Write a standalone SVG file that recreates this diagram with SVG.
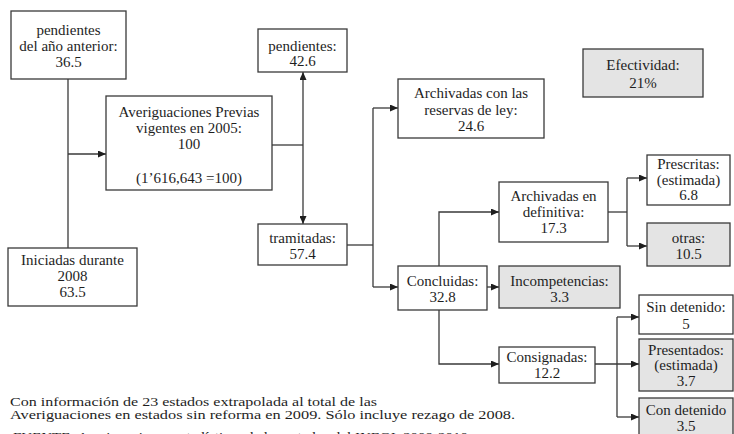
<svg xmlns="http://www.w3.org/2000/svg" width="734" height="434" viewBox="0 0 734 434">
<style>
.box{fill:#fff;stroke:#3a3a3a;stroke-width:1.3}
.gray{fill:#e4e4e4}
text{font-family:"Liberation Serif","DejaVu Serif","Times New Roman",serif;fill:#1e1e1e}
.t{font-size:15px;text-anchor:middle}
.n{font-size:13px}
.c{fill:none;stroke:#3a3a3a;stroke-width:1.3}
.a{marker-end:url(#ah)}
</style>
<defs>
<marker id="ah" markerUnits="userSpaceOnUse" markerWidth="8" markerHeight="7" refX="8" refY="3.5" orient="auto">
<path d="M0,0 L8,3.5 L0,7 z" fill="#1e1e1e"/>
</marker>
</defs>
<g id="connectors">
<path class="c" d="M68,79 V248"/>
<path class="c a" d="M68,154 H106"/>
<path class="c" d="M272,145 H303"/>
<path class="c a" d="M303,145 V72"/>
<path class="c a" d="M303,145 V224"/>
<path class="c" d="M347,245 H373"/>
<path class="c" d="M373,108 V287"/>
<path class="c a" d="M373,108 H398"/>
<path class="c a" d="M373,287 H398"/>
<path class="c a" d="M487,287 H499"/>
<path class="c a" d="M439,266 V212 H499"/>
<path class="c a" d="M439,310 V364 H499"/>
<path class="c" d="M608,212 H627"/>
<path class="c" d="M627,178 V246"/>
<path class="c a" d="M627,178 H647"/>
<path class="c a" d="M627,246 H647"/>
<path class="c a" d="M595,364 H639"/>
<path class="c" d="M617,317 V417"/>
<path class="c a" d="M617,317 H639"/>
<path class="c a" d="M617,417 H639"/>
</g>
<g id="n-anterior">
<rect class="box" x="11" y="11" width="115" height="68"/>
<text class="t" x="68.5" y="35">pendientes</text>
<text class="t" x="68.5" y="51">del año anterior:</text>
<text class="t" x="68.5" y="67">36.5</text>
</g>
<g id="n-iniciadas">
<rect class="box" x="8" y="248" width="129" height="58"/>
<text class="t" x="72.5" y="265">Iniciadas durante</text>
<text class="t" x="72.5" y="281">2008</text>
<text class="t" x="72.5" y="297">63.5</text>
</g>
<g id="n-averiguaciones">
<rect class="box" x="106" y="96" width="166" height="94"/>
<text class="t" x="189" y="117">Averiguaciones Previas</text>
<text class="t" x="189" y="133">vigentes en 2005:</text>
<text class="t" x="189" y="149">100</text>
<text class="t" x="189" y="183">(1’616,643 =100)</text>
</g>
<g id="n-pendientes">
<rect class="box" x="258" y="29" width="89" height="43"/>
<text class="t" x="302.5" y="51">pendientes:</text>
<text class="t" x="302.5" y="66">42.6</text>
</g>
<g id="n-tramitadas">
<rect class="box" x="258" y="224" width="89" height="41"/>
<text class="t" x="302.5" y="243">tramitadas:</text>
<text class="t" x="302.5" y="259">57.4</text>
</g>
<g id="n-reservas">
<rect class="box" x="398" y="79" width="146" height="59"/>
<text class="t" x="471" y="98">Archivadas con las</text>
<text class="t" x="471" y="115">reservas de ley:</text>
<text class="t" x="471" y="131">24.6</text>
</g>
<g id="n-efectividad">
<rect class="box gray" x="583" y="49" width="120" height="48"/>
<text class="t" x="643" y="70">Efectividad:</text>
<text class="t" x="643" y="88">21%</text>
</g>
<g id="n-concluidas">
<rect class="box" x="398" y="266" width="89" height="44"/>
<text class="t" x="442.5" y="286">Concluidas:</text>
<text class="t" x="442.5" y="302">32.8</text>
</g>
<g id="n-incompetencias">
<rect class="box gray" x="499" y="266" width="121" height="42"/>
<text class="t" x="559.5" y="286">Incompetencias:</text>
<text class="t" x="559.5" y="302">3.3</text>
</g>
<g id="n-definitiva">
<rect class="box" x="499" y="182" width="109" height="60"/>
<text class="t" x="553.5" y="201">Archivadas en</text>
<text class="t" x="553.5" y="217">definitiva:</text>
<text class="t" x="553.5" y="233">17.3</text>
</g>
<g id="n-prescritas">
<rect class="box" x="647" y="155" width="83" height="50"/>
<text class="t" x="688.5" y="169">Prescritas:</text>
<text class="t" x="688.5" y="185">(estimada)</text>
<text class="t" x="688.5" y="200">6.8</text>
</g>
<g id="n-otras">
<rect class="box gray" x="647" y="223" width="83" height="43"/>
<text class="t" x="688.5" y="243">otras:</text>
<text class="t" x="688.5" y="259">10.5</text>
</g>
<g id="n-consignadas">
<rect class="box" x="499" y="347" width="96" height="36"/>
<text class="t" x="547" y="362">Consignadas:</text>
<text class="t" x="547" y="378">12.2</text>
</g>
<g id="n-sindetenido">
<rect class="box" x="639" y="295" width="94" height="39"/>
<text class="t" x="686" y="312">Sin detenido:</text>
<text class="t" x="686" y="329">5</text>
</g>
<g id="n-presentados">
<rect class="box gray" x="639" y="339" width="94" height="52"/>
<text class="t" x="686" y="355">Presentados:</text>
<text class="t" x="686" y="370">(estimada)</text>
<text class="t" x="686" y="386">3.7</text>
</g>
<g id="n-condetenido">
<rect class="box gray" x="639" y="398" width="94" height="50"/>
<text class="t" x="686" y="415">Con detenido</text>
<text class="t" x="686" y="431">3.5</text>
</g>
<g id="notes">
<text class="n" x="10" y="406" textLength="367" lengthAdjust="spacingAndGlyphs">Con información de 23 estados extrapolada al total de las</text>
<text class="n" x="10" y="419" textLength="505" lengthAdjust="spacingAndGlyphs">Averiguaciones en estados sin reforma en 2009. Sólo incluye rezago de 2008.</text>
<text class="n" x="13" y="441" textLength="455" lengthAdjust="spacingAndGlyphs">FUENTE: Averiguaciones estadísticas de los estados del INEGI, 2009-2010</text>
</g>
</svg>
